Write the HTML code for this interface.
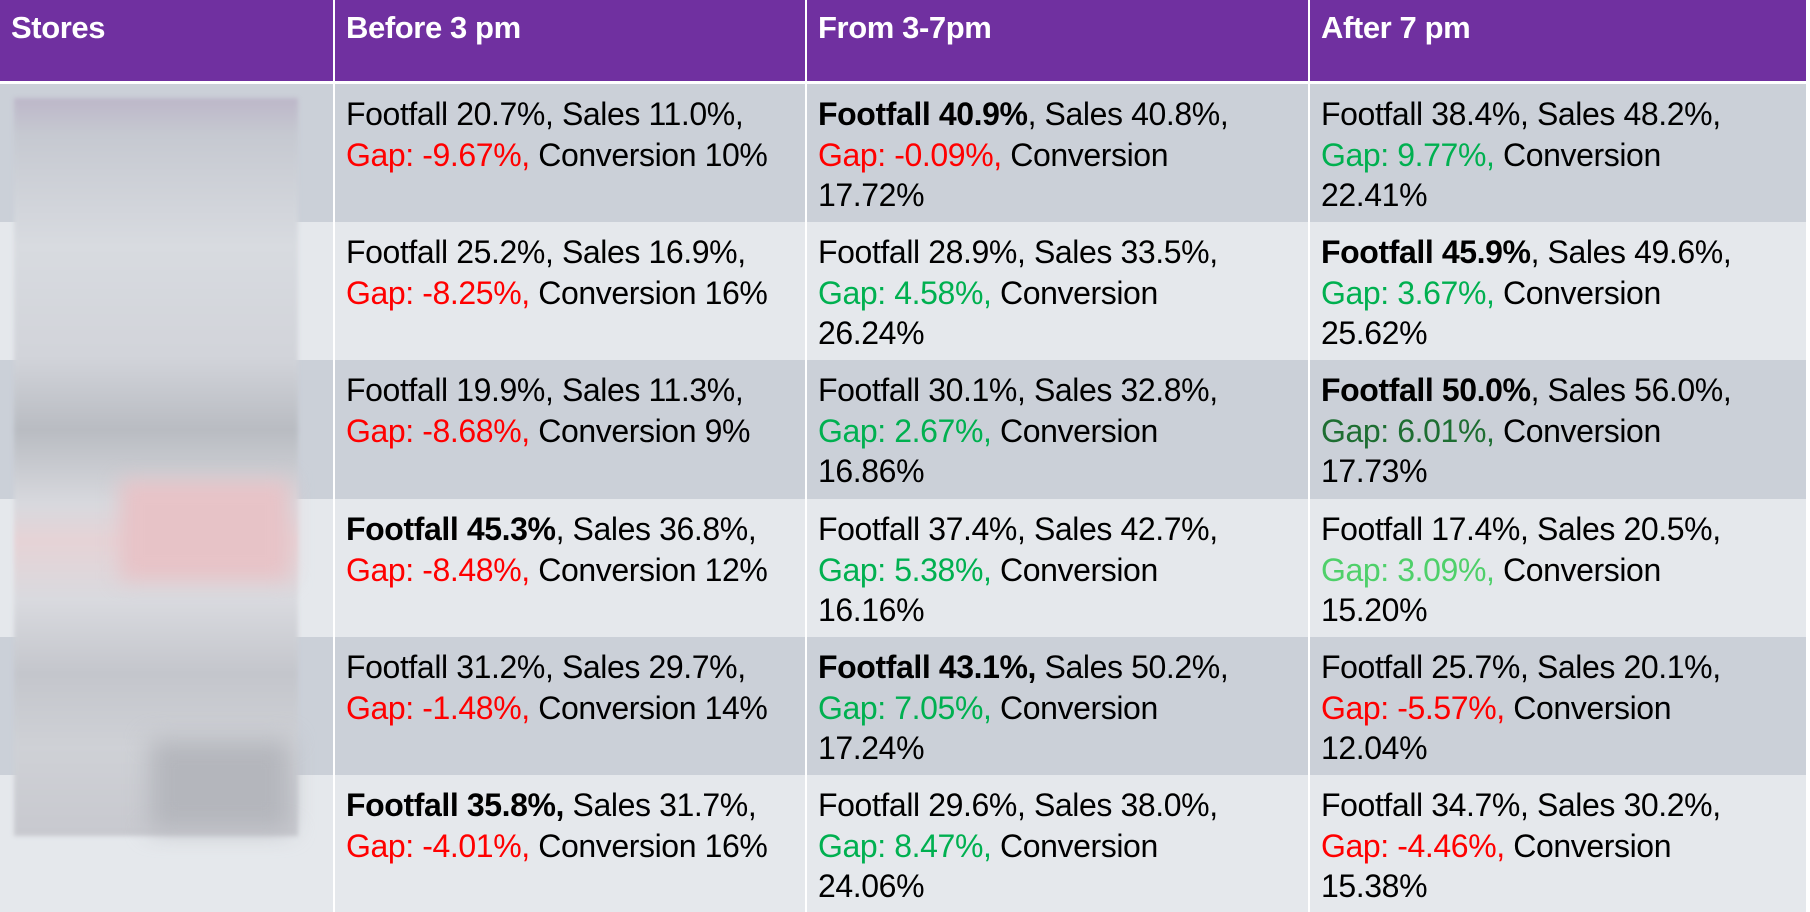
<!DOCTYPE html>
<html><head><meta charset="utf-8"><style>
body{margin:0;width:1810px;height:912px;overflow:hidden;background:#fff;font-family:"Liberation Sans",sans-serif;}
.c{position:absolute;box-sizing:border-box;padding:10px 0 0 11px;font-size:32px;line-height:40.5px;color:#000;white-space:nowrap;letter-spacing:-0.4px}
.h{background:#7030A0;color:#fff;font-weight:bold;font-size:31px;padding-top:8px}
.r{color:#FF0000}.g{color:#00B050}.dg{color:#1E6E32}.lg{color:#4FD06A}
b{font-weight:bold}
</style></head><body>
<div id="t"></div>
<script>
const headers=["Stores","Before 3 pm","From 3-7pm","After 7 pm"];
const colX=[0,333,805,1308,1806];
const rowY=[0,81,84,222,360,499,637,775,912];
const rows=[
[["Footfall 20.7%, Sales 11.0%,<br><span class=r>Gap: -9.67%,</span> Conversion 10%"],["<b>Footfall 40.9%</b>, Sales 40.8%,<br><span class=r>Gap: -0.09%,</span> Conversion<br>17.72%"],["Footfall 38.4%, Sales 48.2%,<br><span class=g>Gap: 9.77%,</span> Conversion<br>22.41%"]],
[["Footfall 25.2%, Sales 16.9%,<br><span class=r>Gap: -8.25%,</span> Conversion 16%"],["Footfall 28.9%, Sales 33.5%,<br><span class=g>Gap: 4.58%,</span> Conversion<br>26.24%"],["<b>Footfall 45.9%</b>, Sales 49.6%,<br><span class=g>Gap: 3.67%,</span> Conversion<br>25.62%"]],
[["Footfall 19.9%, Sales 11.3%,<br><span class=r>Gap: -8.68%,</span> Conversion 9%"],["Footfall 30.1%, Sales 32.8%,<br><span class=g>Gap: 2.67%,</span> Conversion<br>16.86%"],["<b>Footfall 50.0%</b>, Sales 56.0%,<br><span class=dg>Gap: 6.01%,</span> Conversion<br>17.73%"]],
[["<b>Footfall 45.3%</b>, Sales 36.8%,<br><span class=r>Gap: -8.48%,</span> Conversion 12%"],["Footfall 37.4%, Sales 42.7%,<br><span class=g>Gap: 5.38%,</span> Conversion<br>16.16%"],["Footfall 17.4%, Sales 20.5%,<br><span class=lg>Gap: 3.09%,</span> Conversion<br>15.20%"]],
[["Footfall 31.2%, Sales 29.7%,<br><span class=r>Gap: -1.48%,</span> Conversion 14%"],["<b>Footfall 43.1%,</b> Sales 50.2%,<br><span class=g>Gap: 7.05%,</span> Conversion<br>17.24%"],["Footfall 25.7%, Sales 20.1%,<br><span class=r>Gap: -5.57%,</span> Conversion<br>12.04%"]],
[["<b>Footfall 35.8%,</b> Sales 31.7%,<br><span class=r>Gap: -4.01%,</span> Conversion 16%"],["Footfall 29.6%, Sales 38.0%,<br><span class=g>Gap: 8.47%,</span> Conversion<br>24.06%"],["Footfall 34.7%, Sales 30.2%,<br><span class=r>Gap: -4.46%,</span> Conversion<br>15.38%"]]
];
const t=document.getElementById('t');
function cell(x0,x1,y0,y1,bg,html,cls){
 const d=document.createElement('div');
 d.className='c '+(cls||'');
 d.style.left=(x0+(x0?2:0))+'px';d.style.width=(x1-x0-(x0?2:0))+'px';
 d.style.top=y0+'px';d.style.height=(y1-y0-2)+'px';
 if(bg)d.style.background=bg;
 d.innerHTML=html;t.appendChild(d);return d;
}
headers.forEach((h,i)=>{
 const d=cell(colX[i],colX[i+1],0,83,null,h,'h');
 
 
});
rows.forEach((r,ri)=>{
 const y0=rowY[ri+2],y1=rowY[ri+3]+2;
 const bg=ri%2===0?'#CBD0D8':'#E5E8EC';
 const s=cell(colX[0],colX[1],y0,y1,bg,'');
 
 
 r.forEach((v,ci)=>{
  const d=cell(colX[ci+1],colX[ci+2],y0,y1,bg,v[0]);
  
  
 });
});
const blur=document.createElement('div');


blur.style.cssText='position:absolute;left:14px;top:98px;width:284px;height:738px;background:linear-gradient(180deg,#bdb7c9 0%,#c6c9d1 5%,#d8dbe0 20%,#d2d4da 35%,#b9bcc2 45%,#d8d9de 55%,#e6d3d6 60%,#d9dadf 68%,#c4c6cc 78%,#cfd1d6 88%,#c8c9cf 100%);filter:blur(2px)';
t.appendChild(blur);
const pink=document.createElement('div');


pink.style.cssText='position:absolute;left:120px;top:480px;width:170px;height:100px;background:#e7c3c7;filter:blur(10px)';
t.appendChild(pink);
const dark=document.createElement('div');


dark.style.cssText='position:absolute;left:150px;top:740px;width:140px;height:90px;background:#b4b6bc;filter:blur(12px)';
t.appendChild(dark);
</script>
</body></html>
